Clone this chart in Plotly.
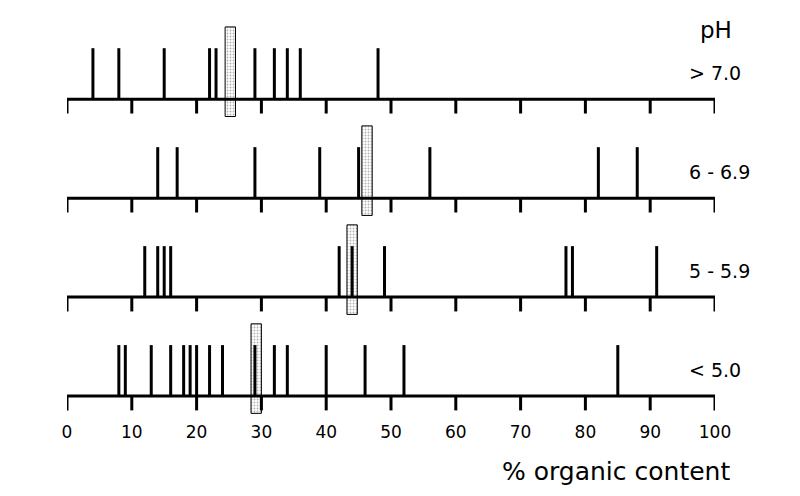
import plotly.graph_objects as go

# ---- data ----
row_labels = ["> 7.0", "6 - 6.9", "5 - 5.9", "< 5.0"]
row_gt7 = [4, 8, 15, 22, 23, 29, 32, 34, 36, 48]
row_6 = [14, 17, 29, 39, 45, 56, 82, 88]
row_5 = [12, 14, 15, 16, 42, 44, 49, 77, 78, 91]
row_lt5 = [8, 9, 13, 16, 18, 19, 20, 22, 24, 29, 32, 34, 40, 46, 52, 85]
row_values = [row_gt7, row_6, row_5, row_lt5]
row_means = [25.2, 46.3, 44.0, 29.2]
tick_vals = [0, 10, 20, 30, 40, 50, 60, 70, 80, 90, 100]
tick_text = ["0", "10", "20", "30", "40", "50", "60", "70", "80", "90", "100"]

# ---- styling / layout constants ----
LINE_H = 0.515
TICK_D = 0.145
BOX_LO = -0.175
BOX_HI = 0.73
BOX_W = 1.6
INK = "#000000"
FONT = "DejaVu Sans"

fig = go.Figure()
n = len(row_values)
for r, vals in enumerate(row_values):
    base = n - 1 - r
    # mean box (stippled)
    fig.add_trace(go.Bar(
        x=[row_means[r]], y=[BOX_HI - BOX_LO], base=[base + BOX_LO], width=BOX_W,
        marker=dict(color="white", line=dict(color=INK, width=1),
                    pattern=dict(shape=".", fgcolor="#666666", bgcolor="white",
                                 size=3, solidity=0.3, fillmode="overlay")),
        hoverinfo="skip", showlegend=False))
    # baseline with hanging ticks
    bx, by = [0, 100, None], [base, base, None]
    for t in tick_vals:
        bx += [t, t, None]
        by += [base, base - TICK_D, None]
    fig.add_trace(go.Scatter(x=bx, y=by, mode="lines",
                             line=dict(color=INK, width=3), hoverinfo="skip",
                             showlegend=False))
    # data lines
    lx, ly = [], []
    for v in vals:
        lx += [v, v, None]
        ly += [base, base + LINE_H, None]
    fig.add_trace(go.Scatter(x=lx, y=ly, mode="lines",
                             line=dict(color=INK, width=3), hoverinfo="skip",
                             showlegend=False))
    fig.add_annotation(text=row_labels[r], x=0.957, xref="paper", xanchor="left",
                       y=base + 0.26, yref="y", yanchor="middle", showarrow=False,
                       font=dict(family=FONT, size=19, color=INK))

fig.add_annotation(text="pH", x=0.973, xref="paper", xanchor="left",
                   y=3.70, yref="y", yanchor="middle", showarrow=False,
                   font=dict(family=FONT, size=23, color=INK))
fig.add_annotation(text="% organic content", x=1.026, xref="paper", xanchor="right",
                   y=-0.13, yref="paper", yanchor="middle", showarrow=False,
                   font=dict(family=FONT, size=25, color=INK))

fig.update_layout(
    width=792, height=488, barmode="overlay",
    margin=dict(l=59, r=85, t=12, b=76),
    paper_bgcolor="white", plot_bgcolor="white",
    xaxis=dict(range=[0, 100], tickvals=tick_vals, ticktext=tick_text,
               showgrid=False, zeroline=False, showline=False, ticks="",
               tickfont=dict(family=FONT, size=17, color=INK)),
    yaxis=dict(range=[-0.242, 3.8], visible=False, showgrid=False, zeroline=False),
)
fig.update_traces(cliponaxis=False)

fig.write_html("out.html")
